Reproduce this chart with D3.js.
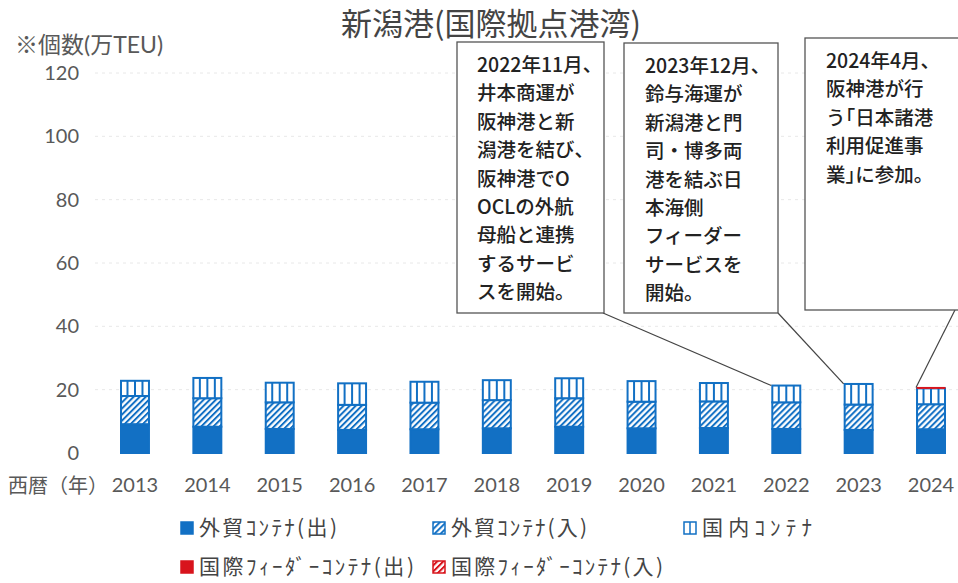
<!DOCTYPE html>
<html>
<head>
<meta charset="utf-8">
<script src="https://cdn.jsdelivr.net/npm/d3@7"></script>
<style>
  body { margin: 0; background: #fff; }
  svg { display: block; }
  text { font-family: "Lato", "Noto Sans CJK JP", sans-serif; }
  .jp { font-family: "Noto Sans CJK JP", sans-serif; }
</style>
</head>
<body>
<svg id="chart" width="958" height="583"></svg>
<script>
// data (万TEU)
var years = ["2013","2014","2015","2016","2017","2018","2019","2020","2021","2022","2023","2024"];
var exportCt  = [9.1, 8.3, 7.6, 7.3, 7.5, 7.8, 8.3, 7.8, 7.9, 7.6, 7.3, 7.5];
var importCt  = [8.9, 9.0, 8.4, 7.9, 8.4, 8.9, 9.0, 8.4, 8.4, 8.4, 8.0, 7.9];
var domestic  = [4.8, 6.4, 6.2, 6.8, 6.6, 6.3, 6.3, 6.5, 5.8, 5.3, 6.5, 5.0];
var feederOut = [0, 0, 0, 0, 0, 0, 0, 0, 0, 0, 0, 0];
var feederIn  = [0, 0, 0, 0, 0, 0, 0, 0, 0, 0, 0, 0.3];
var yTicks = [0, 20, 40, 60, 80, 100, 120];

// stacking order bottom -> top
var seriesKeys = ["exportCt","importCt","domestic","feederOut","feederIn"];
var legendNames = ["外貿ｺﾝﾃﾅ(出)","外貿ｺﾝﾃﾅ(入)","国内ｺﾝﾃﾅ","国際ﾌｨｰﾀﾞｰｺﾝﾃﾅ(出)","国際ﾌｨｰﾀﾞｰｺﾝﾃﾅ(入)"];

var notes = [
  {year:"2022", lines:["2022年11月、","井本商運が","阪神港と新","潟港を結び、","阪神港でO","OCLの外航","母船と連携","するサービ","スを開始。"]},
  {year:"2023", lines:["2023年12月、","鈴与海運が","新潟港と門","司・博多両","港を結ぶ日","本海側","フィーダー","サービスを","開始。"]},
  {year:"2024", lines:["2024年4月、","阪神港が行","う｢日本諸港","利用促進事","業｣に参加。"]}
];

var blue = "#1270c4", red = "#d8141c", grey = "#595959";

var rows = years.map(function (y, i) {
  return {year: y, exportCt: exportCt[i], importCt: importCt[i], domestic: domestic[i],
          feederOut: feederOut[i], feederIn: feederIn[i]};
});
function total(r) { return r.exportCt + r.importCt + r.domestic + r.feederOut + r.feederIn; }

var svg = d3.select("#chart");

// patterns
var defs = svg.append("defs");
function hatch(id, color) {
  var p = defs.append("pattern").attr("id", id).attr("patternUnits", "userSpaceOnUse")
    .attr("width", 4.3).attr("height", 4.3).attr("patternTransform", "rotate(45)");
  p.append("rect").attr("width", 4.3).attr("height", 4.3).attr("fill", "#fff");
  p.append("line").attr("x1", 1).attr("x2", 1).attr("y1", 0).attr("y2", 4.3)
    .attr("stroke", color).attr("stroke-width", 2);
}
hatch("hatchBlue", blue);
hatch("hatchRed", red);

var x = d3.scaleBand().domain(years).range([98.8, 967.2]).paddingInner(0.586).paddingOuter(0.293);
var y = d3.scaleLinear().domain([0, 120]).range([453, 73]);

// gridlines
svg.append("g").selectAll("line").data(yTicks.slice(1)).enter().append("line")
  .attr("x1", 95).attr("x2", 958)
  .attr("y1", function (d) { return y(d); }).attr("y2", function (d) { return y(d); })
  .attr("stroke", "#e8e8e8").attr("stroke-width", 1).attr("stroke-dasharray", "3,4");

// title (drawn before the callouts, which sit over it)
svg.append("text").attr("class", "jp").attr("x", 491).attr("y", 35).attr("text-anchor", "middle")
  .attr("font-size", 31).attr("fill", "#444").text("新潟港(国際拠点港湾)");

svg.append("text").attr("x", 15).attr("y", 53).attr("font-size", 23).attr("fill", grey)
  .text("※個数(万TEU)");

// y tick labels
svg.append("g").selectAll("text").data(yTicks).enter().append("text")
  .attr("x", 79).attr("y", function (d) { return y(d) + 7; })
  .attr("text-anchor", "end").attr("font-size", 20).attr("fill", grey)
  .text(function (d) { return d; });

// x labels
svg.append("g").selectAll("text").data(years).enter().append("text")
  .attr("x", function (d) { return x(d) + x.bandwidth() / 2; }).attr("y", 492)
  .attr("text-anchor", "middle").attr("font-size", 20).attr("fill", grey)
  .text(function (d) { return d; });
svg.append("text").attr("class", "jp").attr("x", 8).attr("y", 493).attr("font-size", 20)
  .attr("fill", grey).text("西暦（年）");

// stacked bars
var stack = d3.stack().keys(seriesKeys)(rows);
var fills = {exportCt: blue, importCt: "url(#hatchBlue)", feederOut: red, feederIn: "url(#hatchRed)", domestic: "#fff"};
var strokes = {exportCt: blue, importCt: blue, feederOut: red, feederIn: red, domestic: blue};

var barG = svg.append("g");
stack.forEach(function (layer) {
  barG.append("g").selectAll("rect").data(layer.filter(function (d) { return d[1] - d[0] > 0; }))
    .enter().append("rect")
    .attr("x", function (d) { return x(d.data.year) + 1; })
    .attr("width", x.bandwidth() - 2)
    .attr("y", function (d) { return y(d[1]); })
    .attr("height", function (d) { return y(d[0]) - y(d[1]); })
    .attr("fill", fills[layer.key])
    .attr("stroke", strokes[layer.key]).attr("stroke-width", layer.key.indexOf("feeder") === 0 ? 1 : 2);
  if (layer.key === "domestic") {
    // vertical stripes of the 国内 segment
    [0.25, 0.5, 0.75].forEach(function (f) {
      barG.append("g").selectAll("line").data(layer).enter().append("line")
        .attr("x1", function (d) { return x(d.data.year) + x.bandwidth() * f; })
        .attr("x2", function (d) { return x(d.data.year) + x.bandwidth() * f; })
        .attr("y1", function (d) { return y(d[1]); })
        .attr("y2", function (d) { return y(d[0]); })
        .attr("stroke", blue).attr("stroke-width", 2);
    });
  }
});

// callouts
var boxes = [
  {x: 457, y: 42, w: 147, h: 271, tx: 477, from: [603, 313]},
  {x: 624, y: 43, w: 154, h: 270, tx: 645, from: [778, 313]},
  {x: 805, y: 38, w: 165, h: 272, tx: 826, from: [955, 310]}
];
var callG = svg.append("g");
notes.forEach(function (n, i) {
  var b = boxes[i];
  var r = rows[years.indexOf(n.year)];
  callG.append("line").attr("x1", b.from[0]).attr("y1", b.from[1])
    .attr("x2", x(n.year)).attr("y2", y(total(r)))
    .attr("stroke", "#444").attr("stroke-width", 1.2);
  callG.append("rect").attr("x", b.x).attr("y", b.y).attr("width", b.w).attr("height", b.h)
    .attr("fill", "#fff").attr("stroke", "#555").attr("stroke-width", 1.3);
  callG.append("g").selectAll("text").data(n.lines).enter().append("text")
    .attr("class", "jp").attr("x", b.tx)
    .attr("y", function (d, j) { return b.y + 30 + j * 28.4; })
    .attr("font-size", 19.5).attr("font-weight", 500).attr("fill", "#222")
    .text(function (d) { return d; });
});

// legend
var legendPos = [[181, 528], [433, 528], [684, 528], [181, 567], [433, 567]];
var legendLen = [138, 136, 110, 215, 212];
var legendFill = [blue, "url(#hatchBlue)", "#fff", red, "url(#hatchRed)"];
var legendStroke = [blue, blue, blue, red, red];
var lg = svg.append("g");
legendNames.forEach(function (name, i) {
  var p = legendPos[i];
  lg.append("rect").attr("x", p[0]).attr("y", p[1] - 6).attr("width", 12).attr("height", 12)
    .attr("fill", legendFill[i]).attr("stroke", legendStroke[i]).attr("stroke-width", 1.5);
  if (i === 2) {
    lg.append("line").attr("x1", p[0] + 6).attr("x2", p[0] + 6).attr("y1", p[1] - 6).attr("y2", p[1] + 6)
      .attr("stroke", blue).attr("stroke-width", 1.5);
  }
  lg.append("text").attr("class", "jp").attr("x", p[0] + 18).attr("y", p[1] + 7)
    .attr("font-size", 21).attr("fill", "#444")
    .attr("textLength", legendLen[i]).attr("lengthAdjust", "spacing").text(name);
});
</script>
</body>
</html>
